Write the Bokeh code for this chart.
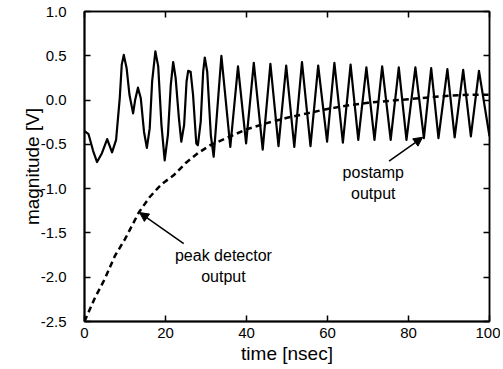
from bokeh.plotting import figure
from bokeh.models import Range1d, LinearAxis, Label, Arrow, NormalHead, CustomJSTickFormatter, FixedTicker
from bokeh.embed import file_html
from bokeh.resources import INLINE

# postamp output
post_t = [0, 1.0, 2.1, 3.1, 4.3, 5.6, 6.8, 7.8, 8.7, 9.2, 9.7, 10.4, 11.1, 12.0, 12.5,
          13.2, 13.9, 14.7, 15.4, 16.1, 16.7, 17.5, 18.2, 19.0, 19.8, 20.6, 21.3, 21.9,
          22.5, 23.3, 23.9, 24.6, 25.2, 25.6, 26.2, 26.8, 27.6, 28.0, 28.7, 29.3, 29.7,
          30.3, 31.2, 31.9, 33.8, 36.0, 37.9, 39.9, 41.8, 44.0, 45.9, 47.9, 49.8, 51.8,
          53.7, 55.8, 57.7, 59.9, 61.7, 63.8, 65.7, 67.6, 69.6, 71.6, 73.5, 75.6, 77.6,
          79.5, 81.7, 83.8, 85.6, 87.4, 89.6, 91.4, 93.5, 95.4, 97.4, 100]
post_v = [-0.35, -0.385, -0.57, -0.70, -0.60, -0.44, -0.59, -0.45, 0.02, 0.40, 0.51, 0.36,
          0.06, -0.15, 0.00, 0.14, 0.02, -0.36, -0.54, -0.32, 0.21, 0.55, 0.38, -0.28,
          -0.68, -0.39, 0.17, 0.43, 0.25, -0.20, -0.47, -0.28, 0.21, 0.33, 0.32, 0.06,
          -0.49, -0.51, -0.24, 0.32, 0.48, 0.32, -0.40, -0.64, 0.50, -0.53, 0.38, -0.49,
          0.42, -0.56, 0.41, -0.52, 0.39, -0.53, 0.43, -0.52, 0.39, -0.47, 0.42, -0.48,
          0.40, -0.45, 0.37, -0.45, 0.38, -0.45, 0.37, -0.45, 0.37, -0.43, 0.36, -0.43,
          0.35, -0.42, 0.34, -0.41, 0.33, -0.41]

# peak detector output
peak_t = [0, 2.5, 5, 7.5, 10, 13.4, 16, 19, 22, 25, 28, 31, 35, 40, 45, 50, 55, 60, 65,
          70, 75, 80, 85, 90, 95, 100]
peak_v = [-2.50, -2.24, -2.02, -1.76, -1.57, -1.27, -1.10, -0.95, -0.85, -0.71, -0.60,
          -0.51, -0.43, -0.33, -0.26, -0.20, -0.15, -0.10, -0.06, -0.03, -0.01, 0.01,
          0.03, 0.05, 0.06, 0.06]

x_ticks = [0, 20, 40, 60, 80, 100]
y_ticks = [-2.5, -2.0, -1.5, -1.0, -0.5, 0.0, 0.5, 1.0]

FONT = "Liberation Sans"

p = figure(width=500, height=369, output_backend="svg", toolbar_location=None,
           x_range=Range1d(0, 100), y_range=Range1d(-2.5, 1.0),
           min_border_left=84, min_border_right=11, min_border_top=11, min_border_bottom=48)
p.grid.visible = False
p.outline_line_color = "black"
p.outline_line_width = 1.5
p.background_fill_color = "white"
p.border_fill_color = "white"

p.xaxis.ticker = FixedTicker(ticks=x_ticks)
p.yaxis.ticker = FixedTicker(ticks=y_ticks)
p.yaxis.formatter = CustomJSTickFormatter(code="return tick.toFixed(1);")
p.xaxis.axis_label = "time [nsec]"
p.yaxis.axis_label = "magnitude [V]"
for ax in (p.xaxis[0], p.yaxis[0]):
    ax.axis_line_width = 2
    ax.axis_line_color = "black"
    ax.major_tick_in = 6
    ax.major_tick_out = 0
    ax.major_tick_line_width = 1.5
    ax.minor_tick_line_color = None
    ax.major_label_text_font = FONT
    ax.major_label_text_font_size = "15px"
    ax.major_label_text_color = "black"
    ax.axis_label_text_font = FONT
    ax.axis_label_text_font_size = "19px"
    ax.axis_label_text_font_style = "normal"
    ax.axis_label_text_color = "black"
p.xaxis.major_label_standoff = 6
p.xaxis.axis_label_standoff = 2
p.yaxis.major_label_standoff = 18
p.yaxis.axis_label_standoff = -5

for side, ticks in (("above", x_ticks), ("right", y_ticks)):
    ax = LinearAxis(ticker=FixedTicker(ticks=ticks),
                    formatter=CustomJSTickFormatter(code="return '';"))
    ax.axis_line_width = 1.5
    ax.major_tick_in = 6
    ax.major_tick_out = 0
    ax.major_tick_line_width = 1.5
    ax.minor_tick_line_color = None
    ax.major_label_standoff = 0
    p.add_layout(ax, side)

p.line(post_t, post_v, line_color="black", line_width=2.2, line_join="round")
p.line(peak_t, peak_v, line_color="black", line_width=2.5, line_dash="6 4")

# annotations
p.add_layout(Arrow(end=NormalHead(size=9, fill_color="black", line_color="black"),
                   x_start=24.5, y_start=-1.62, x_end=13.6, y_end=-1.27,
                   line_color="black", line_width=1.5))
p.add_layout(Arrow(end=NormalHead(size=9, fill_color="black", line_color="black"),
                   x_start=75.2, y_start=-0.69, x_end=83.5, y_end=-0.42,
                   line_color="black", line_width=1.5))
for txt, x, y in (("peak detector", 34.3, -1.76), ("output", 34.3, -1.99),
                  ("postamp", 71.3, -0.82), ("output", 71.3, -1.06)):
    p.add_layout(Label(x=x, y=y, text=txt, text_align="center", text_baseline="middle",
                       text_font=FONT, text_font_size="16px", text_color="black"))

open("out.html", "w").write(file_html(p, INLINE))
